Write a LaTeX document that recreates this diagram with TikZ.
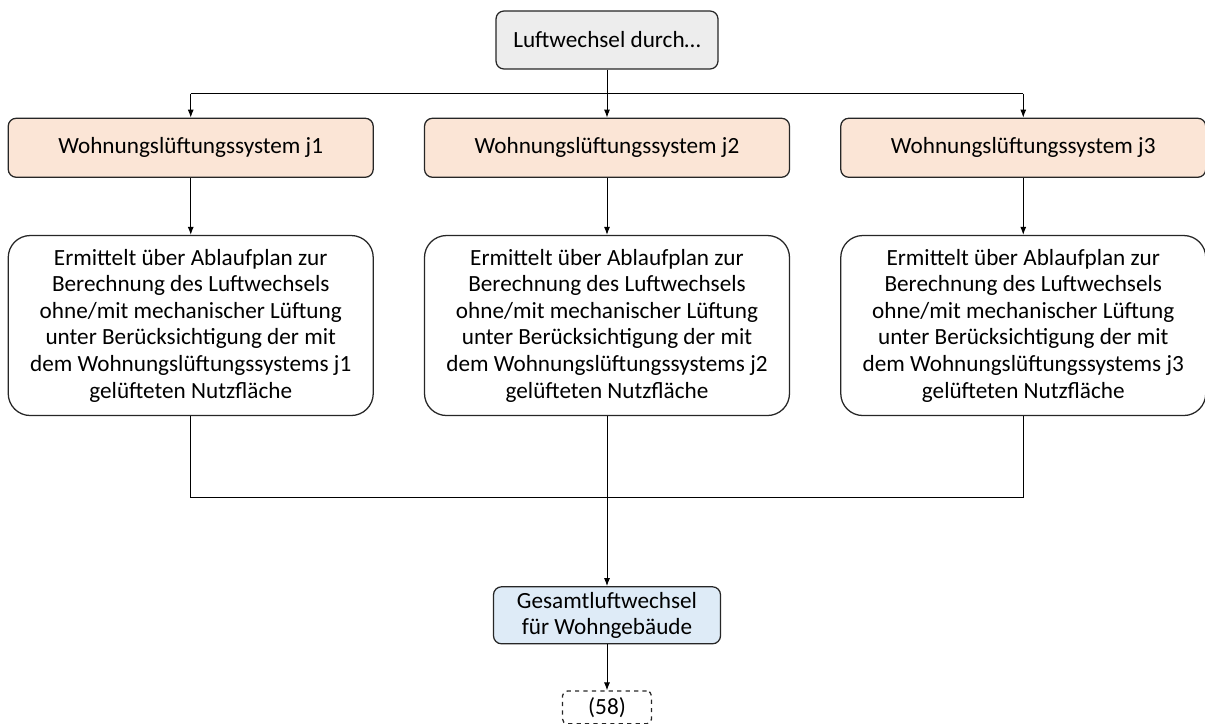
\documentclass[tikz,border=0pt]{standalone}
\usepackage{fontspec}
\setmainfont{Carlito}
\usepackage{xcolor}
\usetikzlibrary{arrows.meta,positioning}
\definecolor{lwgray}{HTML}{EDEDED}
\definecolor{lworange}{HTML}{FBE5D6}
\definecolor{lwblue}{HTML}{DEEBF7}
\definecolor{lwline}{HTML}{262626}
\tikzset{
  box/.style={
    draw=lwline,
    line width=0.9pt,
    rounded corners=2mm,
    align=center,
    font=\fontsize{16.5}{18.9}\selectfont,
    inner sep=2pt
  },
  sysbox/.style={
    box,
    fill=lworange,
    minimum width=91.25mm,
    minimum height=14.75mm
  },
  calcbox/.style={
    box,
    fill=white,
    rounded corners=5.5mm,
    minimum width=91.25mm,
    minimum height=45mm
  },
  arrow/.style={
    -{Latex[length=2mm,width=1.5mm]},
    line width=0.7pt,
    draw=black
  },
  line/.style={
    line width=0.7pt,
    draw=black
  }
}
\begin{document}
\begin{tikzpicture}[node distance=12mm and 12.5mm]
\useasboundingbox (0,0) rectangle (30.125,-18.1);

\node[box, fill=lwgray, minimum width=55.5mm, minimum height=14.5mm] (start) at (15.175,-1.0) {Luftwechsel durch\dots};

\node[sysbox, below=12mm of start] (sys2) {Wohnungslüftungssystem j2};
\node[sysbox, left=12.5mm of sys2] (sys1) {Wohnungslüftungssystem j1};
\node[sysbox, right=12.5mm of sys2] (sys3) {Wohnungslüftungssystem j3};

\node[calcbox, below=14.25mm of sys1] (calc1) {Ermittelt über Ablaufplan zur\\Berechnung des Luftwechsels\\ohne/mit mechanischer Lüftung\\unter Berücksichtigung der mit\\dem Wohnungslüftungssystems j1\\gelüfteten Nutzfläche};
\node[calcbox, below=14.25mm of sys2] (calc2) {Ermittelt über Ablaufplan zur\\Berechnung des Luftwechsels\\ohne/mit mechanischer Lüftung\\unter Berücksichtigung der mit\\dem Wohnungslüftungssystems j2\\gelüfteten Nutzfläche};
\node[calcbox, below=14.25mm of sys3] (calc3) {Ermittelt über Ablaufplan zur\\Berechnung des Luftwechsels\\ohne/mit mechanischer Lüftung\\unter Berücksichtigung der mit\\dem Wohnungslüftungssystems j3\\gelüfteten Nutzfläche};

\node[box, fill=lwblue, minimum width=56.75mm, minimum height=14.25mm, below=42.5mm of calc2] (total) {Gesamtluftwechsel\\für Wohngebäude};
\node[box, dashed, rounded corners=1.2mm, minimum width=22.25mm, minimum height=8.2mm, inner sep=1pt, below=11.5mm of total] (eq) {(58)};

\coordinate[below=6mm of start.south] (split);
\coordinate[below=20.25mm of calc2.south] (merge);

\draw[line] (start) -- (split);
\draw[line] (split -| sys1) -- (split -| sys3);
\draw[arrow] (split -| sys1) -- (sys1);
\draw[arrow] (split) -- (sys2);
\draw[arrow] (split -| sys3) -- (sys3);

\draw[arrow] (sys1) -- (calc1);
\draw[arrow] (sys2) -- (calc2);
\draw[arrow] (sys3) -- (calc3);

\draw[line] (calc1) -- (merge -| calc1) -- (merge -| calc3) -- (calc3);
\draw[line] (calc2) -- (merge);
\draw[arrow] (merge) -- (total);
\draw[arrow] (total) -- (eq);

\end{tikzpicture}
\end{document}
